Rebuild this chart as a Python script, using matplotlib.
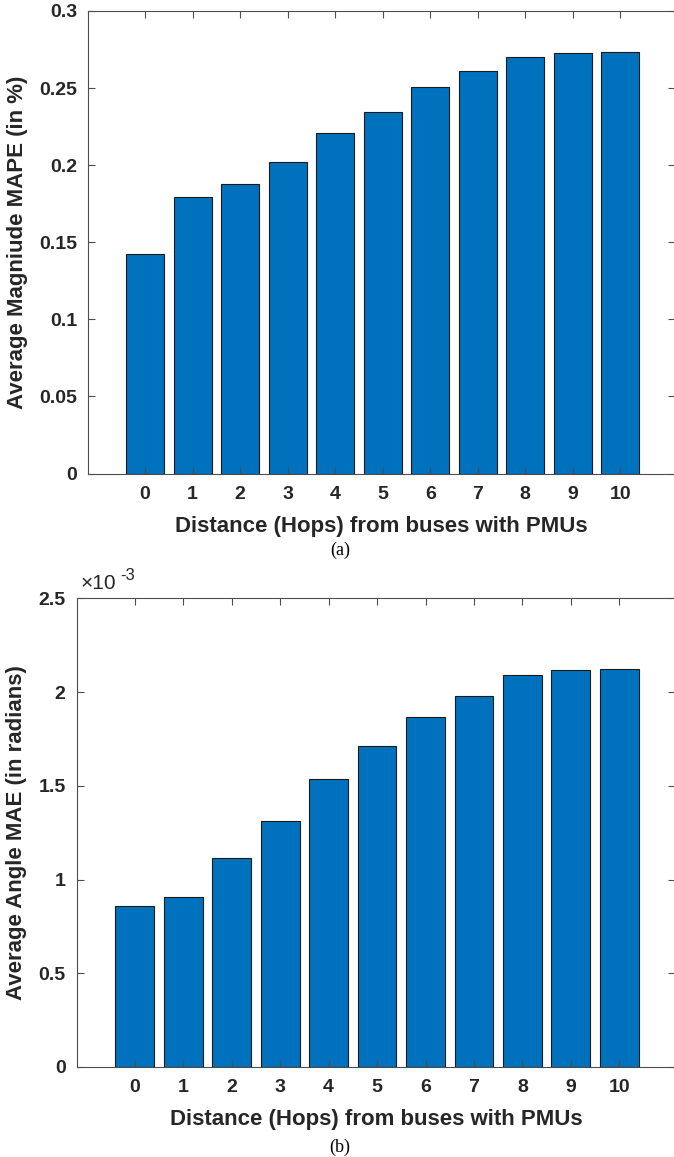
import matplotlib
matplotlib.use("Agg")
import matplotlib.pyplot as plt
from matplotlib.ticker import FuncFormatter
import numpy as np

# hop distance from the nearest bus with a PMU
hops = [0, 1, 2, 3, 4, 5, 6, 7, 8, 9, 10]
hop_labels = [str(h) for h in hops]

# (a) average magnitude MAPE, in %
mag_mape = [0.1424, 0.1793, 0.188, 0.2019, 0.2207, 0.2345,
            0.2505, 0.2609, 0.2704, 0.2730, 0.2734]

# (b) average angle MAE, in radians
ang_mae = [0.859e-3, 0.907e-3, 1.113e-3, 1.312e-3, 1.535e-3, 1.71e-3,
           1.865e-3, 1.98e-3, 2.09e-3, 2.116e-3, 2.123e-3]

mag_ticks = [0, 0.05, 0.1, 0.15, 0.2, 0.25, 0.3]
ang_ticks = [0, 0.5e-3, 1e-3, 1.5e-3, 2e-3, 2.5e-3]

BAR_COLOR = '#0072BD'
AX_COLOR = '#4d4d4d'
TXT_COLOR = '#262626'
SANS = ['Liberation Sans', 'DejaVu Sans']
SERIF = ['Liberation Serif', 'DejaVu Serif']

plt.rcParams['font.family'] = SANS
plt.rcParams['font.weight'] = 'bold'


def style_axes(ax):
    for s in ax.spines.values():
        s.set_color(AX_COLOR)
        s.set_linewidth(0.8)
    ax.tick_params(direction='in', top=True, right=True, length=5,
                   width=0.8, color=AX_COLOR, labelsize=14, pad=8)
    ax.tick_params(axis='x', pad=9)
    ax.set_xticks(hops)
    ax.set_xticklabels(hop_labels)
    ax.set_xlim(-1.2, 11.15)
    ax.set_xlabel('Distance (Hops) from buses with PMUs', fontsize=16,
                  fontweight='bold', color=TXT_COLOR, labelpad=9)
    for lab in ax.get_yticklabels() + ax.get_xticklabels():
        lab.set_fontweight('bold')
        lab.set_color(TXT_COLOR)


fig = plt.figure(figsize=(6.74, 11.57), dpi=100)

# top panel
ax1 = fig.add_axes([0.1306, 0.5907, 0.8709, 0.3998])
ax1.bar(hops, mag_mape, width=0.8, color=BAR_COLOR, edgecolor='#1a1a1a', linewidth=0.8)
ax1.set_ylim(0, 0.3)
ax1.set_yticks(mag_ticks)
ax1.yaxis.set_major_formatter(FuncFormatter(lambda v, p: f'{v:g}'))
ax1.set_ylabel('Average Magniude MAPE (in %)', fontsize=16, fontweight='bold',
               color=TXT_COLOR, labelpad=8)
style_axes(ax1)
fig.text(0.5045, 0.5245, '(a)', ha='center', va='center', fontsize=13,
         family=SERIF, fontweight='normal')

# bottom panel
ax2 = fig.add_axes([0.1138, 0.0778, 0.8877, 0.4051])
ax2.bar(hops, ang_mae, width=0.8, color=BAR_COLOR, edgecolor='#1a1a1a', linewidth=0.8)
ax2.set_ylim(0, 2.5e-3)
ax2.set_yticks(ang_ticks)
ax2.yaxis.set_major_formatter(FuncFormatter(lambda v, p: f'{v * 1e3:g}'))
ax2.set_ylabel('Average Angle MAE (in radians)', fontsize=16, fontweight='bold',
               color=TXT_COLOR, labelpad=8)
style_axes(ax2)

# MATLAB-style exponent label above the y axis
ax2.annotate('\u00d710', xy=(0, 1), xycoords='axes fraction', xytext=(3, 4),
             textcoords='offset points', fontsize=15, fontweight='normal',
             color=TXT_COLOR, ha='left', va='bottom')
ax2.annotate('-3', xy=(0, 1), xycoords='axes fraction', xytext=(31, 11),
             textcoords='offset points', fontsize=12, fontweight='normal',
             color=TXT_COLOR, ha='left', va='bottom')
fig.text(0.5045, 0.0085, '(b)', ha='center', va='center', fontsize=13,
         family=SERIF, fontweight='normal')

fig.savefig('out.png', dpi=100)
